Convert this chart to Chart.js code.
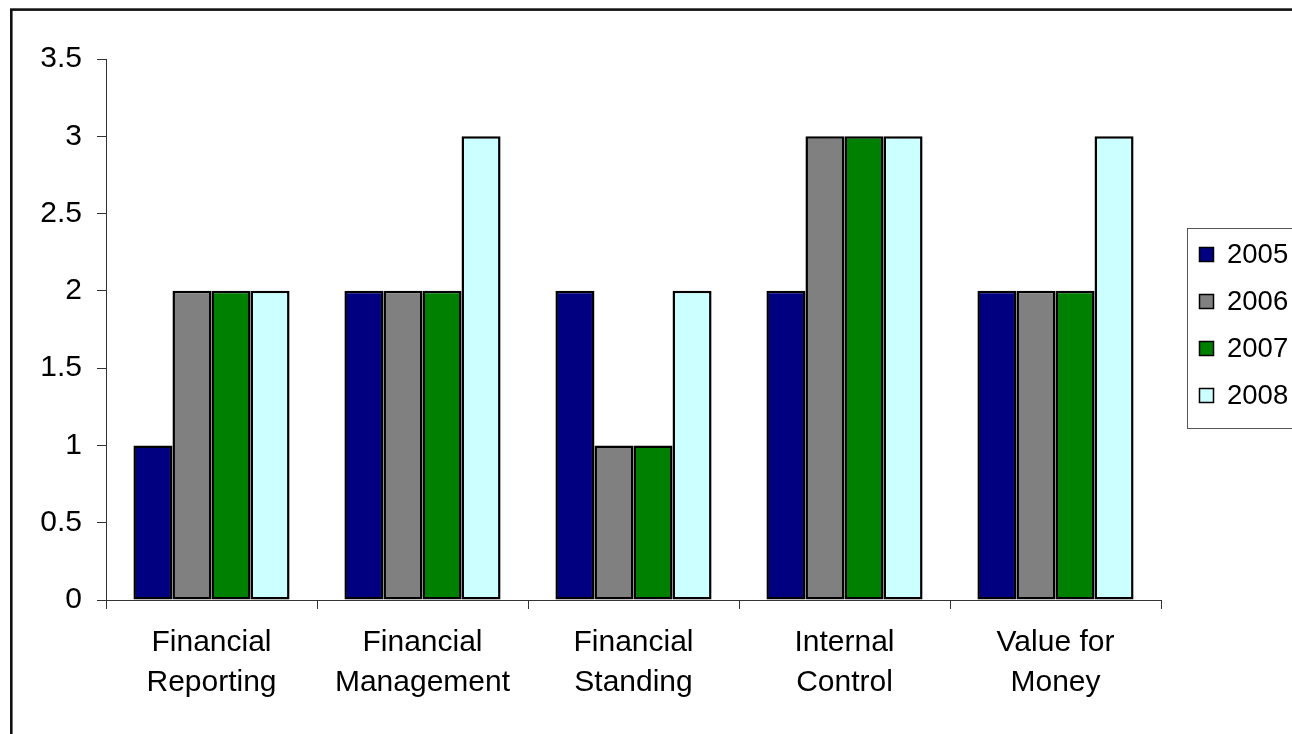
<!DOCTYPE html>
<html>
<head>
<meta charset="utf-8">
<title>Assessment scores 2005–2008</title>
<script src="https://cdn.jsdelivr.net/npm/chart.js@4/dist/chart.umd.min.js"></script>
<style>
  html, body { margin: 0; padding: 0; background: #fff; overflow: hidden; }
  #wrap { position: relative; width: 1292px; height: 734px; }
</style>
</head>
<body>
<div id="wrap"><canvas id="c" width="1292" height="734"></canvas></div>
<script>
// Assessment areas (two-line category labels)
const categories = [
  ['Financial', 'Reporting'],
  ['Financial', 'Management'],
  ['Financial', 'Standing'],
  ['Internal', 'Control'],
  ['Value for', 'Money']
];

// Scores per year
const years = ['2005', '2006', '2007', '2008'];
const scores2005 = [1, 2, 2, 2, 2];
const scores2006 = [2, 2, 1, 3, 2];
const scores2007 = [2, 2, 1, 3, 2];
const scores2008 = [2, 3, 2, 3, 3];

// Y-axis range
const yMin = 0;
const yMax = 3.5;
const yStep = 0.5;

const FONT = "'Liberation Sans', Arial, sans-serif";
const fills = ['#000080', '#808080', '#008000', '#CCFFFF'];

const seriesValues = [scores2005, scores2006, scores2007, scores2008];

// Outer frame of the chart
const framePlugin = {
  id: 'frame',
  beforeDraw(chart) {
    const ctx = chart.ctx;
    ctx.save();
    ctx.fillStyle = '#fff';
    ctx.fillRect(0, 0, chart.width, chart.height);
    ctx.strokeStyle = '#111';
    ctx.lineWidth = 2.6;
    ctx.strokeRect(11.3, 9.6, 3000, 3000);
    ctx.restore();
  }
};

// Boxed legend on the right
const boxLegendPlugin = {
  id: 'boxLegend',
  afterDraw(chart) {
    const ctx = chart.ctx;
    const x0 = 1187.5, y0 = 228.5, w = 300, h = 200;
    ctx.save();
    ctx.strokeStyle = '#555';
    ctx.lineWidth = 1;
    ctx.strokeRect(x0, y0, w, h);
    ctx.font = '27.5px ' + FONT;
    ctx.textBaseline = 'middle';
    ctx.textAlign = 'left';
    chart.data.datasets.forEach((ds, i) => {
      const cy = 255 + i * 47;
      ctx.fillStyle = ds.backgroundColor;
      ctx.fillRect(1199, cy - 8, 15, 15);
      ctx.strokeStyle = '#000';
      ctx.lineWidth = 1.5;
      ctx.strokeRect(1199.5, cy - 7.5, 14, 14);
      ctx.fillStyle = '#000';
      ctx.fillText(ds.label, 1227, cy);
    });
    ctx.restore();
  }
};

new Chart(document.getElementById('c'), {
  type: 'bar',
  data: {
    labels: categories,
    datasets: years.map((y, i) => ({
      label: y,
      data: seriesValues[i],
      backgroundColor: fills[i],
      borderColor: '#000',
      borderWidth: 2.5,
      borderSkipped: false,
      categoryPercentage: 0.74,
      barPercentage: 1.0
    }))
  },
  options: {
    responsive: false,
    animation: false,
    events: [],
    layout: { padding: { left: 0, right: 131, top: 59, bottom: 0 } },
    plugins: {
      legend: { display: false },
      tooltip: { enabled: false }
    },
    scales: {
      x: {
        offset: true,
        grid: {
          offset: true,
          drawOnChartArea: false,
          drawTicks: true,
          tickLength: 9,
          color: '#333'
        },
        border: { display: true, color: '#333', width: 1 },
        ticks: {
          color: '#000',
          font: { family: FONT, size: 30, lineHeight: 1.33 },
          padding: 14,
          maxRotation: 0,
          autoSkip: false
        },
        afterFit(scale) { scale.height = 134; }
      },
      y: {
        min: yMin,
        max: yMax,
        grid: {
          drawOnChartArea: false,
          drawTicks: true,
          tickLength: 9,
          color: '#333'
        },
        border: { display: true, color: '#333', width: 1 },
        ticks: {
          stepSize: yStep,
          color: '#000',
          font: { family: FONT, size: 30 },
          padding: 15,
          callback: v => String(v)
        },
        afterFit(scale) { scale.width = 106; }
      }
    }
  },
  plugins: [framePlugin, boxLegendPlugin]
});
</script>
</body>
</html>
